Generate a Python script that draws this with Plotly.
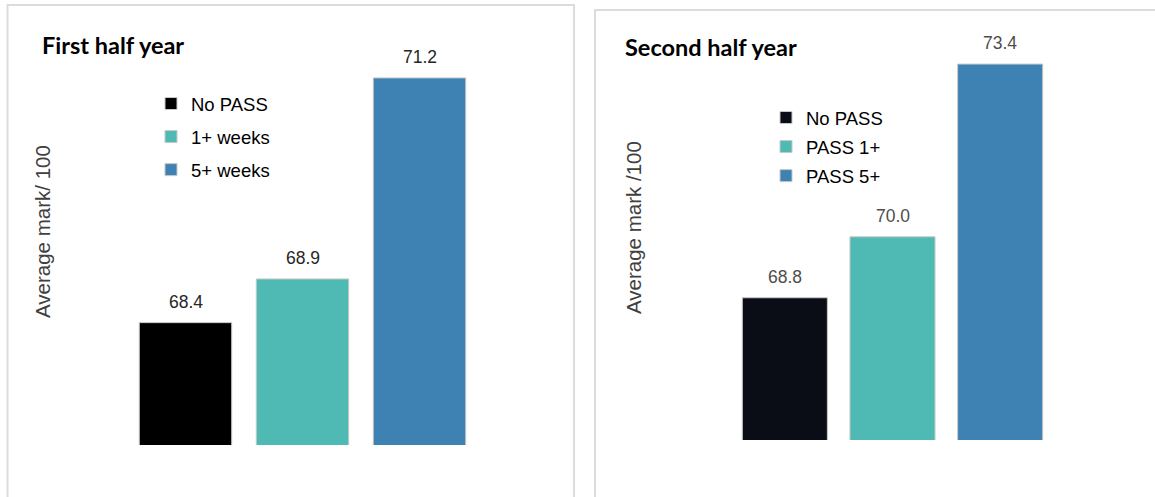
import plotly.graph_objects as go

W, H = 1155, 497

# Average marks per group, first and second half of the year
groups_first = ["No PASS", "1+ weeks", "5+ weeks"]
marks_first = [68.4, 68.9, 71.2]

groups_second = ["No PASS", "PASS 1+", "PASS 5+"]
marks_second = [68.8, 70.0, 73.4]

colors_first = ["#000000", "#4fb9b3", "#3d82b3"]
colors_second = ["#0a0d15", "#4fb9b3", "#3d82b3"]

FONT = "Liberation Sans, Arial, sans-serif"
TITLE_FONT = "Lato, Carlito, sans-serif"


def px_x(p):
    return p / W


def px_y(p):
    return (H - p) / H


fig = go.Figure()

for name, val, col in zip(groups_first, marks_first, colors_first):
    fig.add_trace(go.Bar(
        x=[name], y=[val], name=name, width=0.79,
        marker=dict(color=col, line=dict(color="#c8c8c8", width=1)),
        xaxis="x", yaxis="y", legend="legend", legendgroup="a_" + name,
        hoverinfo="x+y",
    ))

for name, val, col in zip(groups_second, marks_second, colors_second):
    fig.add_trace(go.Bar(
        x=[name], y=[val], name=name, width=0.79,
        marker=dict(color=col, line=dict(color="#c8c8c8", width=1)),
        xaxis="x2", yaxis="y2", legend="legend2", legendgroup="b_" + name,
        hoverinfo="x+y",
    ))

annotations = []
for name, val in zip(groups_first, marks_first):
    annotations.append(dict(
        x=name, y=val, xref="x", yref="y", text=f"{val:.1f}",
        showarrow=False, yanchor="middle", yshift=21,
        font=dict(family=FONT, size=17.5, color="#262626"),
    ))
for name, val in zip(groups_second, marks_second):
    annotations.append(dict(
        x=name, y=val, xref="x2", yref="y2", text=f"{val:.1f}",
        showarrow=False, yanchor="middle", yshift=21,
        font=dict(family=FONT, size=17.5, color="#4d4d4d"),
    ))

# Panel titles
annotations.append(dict(
    x=px_x(40), y=px_y(45), xref="paper", yref="paper", xanchor="left",
    yanchor="middle", text="<b>First half year</b>", showarrow=False,
    font=dict(family=TITLE_FONT, size=23.5, color="#000000"),
))
annotations.append(dict(
    x=px_x(623), y=px_y(47), xref="paper", yref="paper", xanchor="left",
    yanchor="middle", text="<b>Second half year</b>", showarrow=False,
    font=dict(family=TITLE_FONT, size=23.5, color="#000000"),
))

# Y-axis titles
annotations.append(dict(
    x=px_x(43), y=px_y(232), xref="paper", yref="paper", xanchor="center",
    yanchor="middle", text="Average mark/ 100", textangle=-90,
    showarrow=False, font=dict(family=FONT, size=20.5, color="#404040"),
))
annotations.append(dict(
    x=px_x(633), y=px_y(228), xref="paper", yref="paper", xanchor="center",
    yanchor="middle", text="Average mark /100", textangle=-90,
    showarrow=False, font=dict(family=FONT, size=20.5, color="#404040"),
))

# Panel frames
shapes = [
    dict(type="rect", xref="paper", yref="paper",
         x0=px_x(7.5), x1=px_x(574), y0=-0.2, y1=px_y(5),
         line=dict(color="#dcdcdc", width=2), fillcolor="rgba(0,0,0,0)",
         layer="below"),
    dict(type="rect", xref="paper", yref="paper",
         x0=px_x(595), x1=1.2, y0=-0.2, y1=px_y(10),
         line=dict(color="#dcdcdc", width=2), fillcolor="rgba(0,0,0,0)",
         layer="below"),
]

hidden_x = dict(showgrid=False, zeroline=False, showline=False,
                showticklabels=False, ticks="", fixedrange=True)
hidden_y = dict(showgrid=False, zeroline=False, showline=False,
                showticklabels=False, ticks="", fixedrange=True)

fig.update_layout(
    width=W, height=H,
    margin=dict(l=0, r=0, t=0, b=0),
    paper_bgcolor="white", plot_bgcolor="white",
    barmode="overlay",
    showlegend=True,
    xaxis=dict(domain=[px_x(127), px_x(478)], range=[-0.5, 2.5], **hidden_x),
    yaxis=dict(domain=[px_y(445), px_y(8)], range=[67, 72], anchor="x", **hidden_y),
    xaxis2=dict(domain=[px_x(731), px_x(1054)], range=[-0.5, 2.5], anchor="y2", **hidden_x),
    yaxis2=dict(domain=[px_y(440), px_y(33.6)], range=[66, 74], anchor="x2", **hidden_y),
    legend=dict(x=px_x(151), y=px_y(85), xanchor="left", yanchor="top",
                bgcolor="rgba(0,0,0,0)", traceorder="grouped",
                tracegroupgap=6, itemwidth=30,
                font=dict(family=FONT, size=18.5, color="#000000")),
    legend2=dict(x=px_x(766), y=px_y(99), xanchor="left", yanchor="top",
                 bgcolor="rgba(0,0,0,0)", traceorder="grouped",
                 tracegroupgap=2, itemwidth=30,
                 font=dict(family=FONT, size=18.5, color="#000000")),
    annotations=annotations,
    shapes=shapes,
)

fig.write_html("out.html")
